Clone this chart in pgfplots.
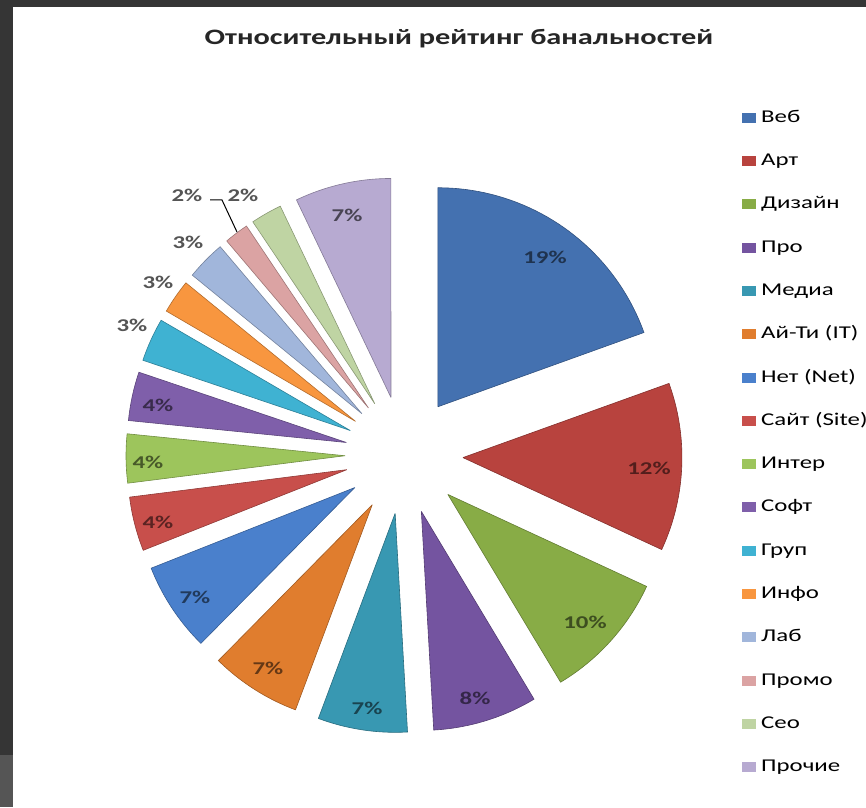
\documentclass[border=0pt]{standalone}
\usepackage{pgfplots}
\pgfplotsset{compat=1.18}
\usepackage{fontspec}
\setmainfont{Carlito}[FakeStretch=1.38]
\definecolor{c1}{HTML}{4471B0}
\definecolor{c2}{HTML}{B8433E}
\definecolor{c3}{HTML}{88AC46}
\definecolor{c4}{HTML}{7454A0}
\definecolor{c5}{HTML}{3898B2}
\definecolor{c6}{HTML}{E07D2E}
\definecolor{c7}{HTML}{4A80CC}
\definecolor{c8}{HTML}{C84F4B}
\definecolor{c9}{HTML}{9DC55C}
\definecolor{c10}{HTML}{7F5FAA}
\definecolor{c11}{HTML}{3FB2D2}
\definecolor{c12}{HTML}{F8963F}
\definecolor{c13}{HTML}{A1B6DB}
\definecolor{c14}{HTML}{DBA3A3}
\definecolor{c15}{HTML}{BFD4A3}
\definecolor{c16}{HTML}{B7AAD1}
\definecolor{frame}{HTML}{353535}
\definecolor{framelow}{HTML}{555555}
\definecolor{lblgray}{HTML}{555555}
\tikzset{pl/.style={font=\bfseries\fontsize{18}{21}\selectfont}}

\newcommand\cum{0}
\newcommand\slice[3]{%
  \pgfmathsetmacro\aS{90-3.6*\cum}%
  \pgfmathsetmacro\aD{-3.6*#1}%
  \pgfmathsetmacro\aM{\aS+\aD/2}%
  \pgfmathsetmacro\ox{404+59*cos(\aM)}%
  \pgfmathsetmacro\oy{352+59*sin(\aM)}%
  \edef\temp{\noexpand\addplot[fill=#2, draw=#2!72!black, line width=0.6pt,
     samples at={-1,0,0.025,...,1,-1}, variable=\noexpand\t]
     ({(\ox)+(\noexpand\t>-0.5)*219*cos((\aS)+(\aD)*\noexpand\t)},
      {(\oy)+(\noexpand\t>-0.5)*219*sin((\aS)+(\aD)*\noexpand\t)});}%
  \temp
  \addlegendentry{#3}%
  \pgfmathsetmacro\newcum{\cum+#1}%
  \xdef\cum{\newcum}%
}

\begin{document}
\begin{tikzpicture}
\begin{axis}[
  x=1pt, y=1pt, xmin=0, xmax=866, ymin=0, ymax=807,
  hide axis, clip=false,
  legend image code/.code={\fill[#1, draw=none] (0pt,-5pt) rectangle (14pt,5pt);},
  legend cell align=left,
  legend style={draw=none, fill=none, inner sep=0pt,
    at={(axis cs:742,698)}, anchor=north west,
    font=\fontsize{18}{20}\selectfont, row sep=26.3pt,
    nodes={inner sep=0pt, text height=13pt, text depth=4pt},
    /tikz/every odd column/.append style={column sep=5pt}},
]
\fill[white] (axis cs:0,0) rectangle (axis cs:866,807);
\fill[frame] (axis cs:0,800) rectangle (axis cs:866,807);
\fill[frame] (axis cs:0,52) rectangle (axis cs:13,807);
\fill[framelow] (axis cs:0,0) rectangle (axis cs:13,52);

\slice{19.5}{c1}{Веб}
\slice{12.4}{c2}{Арт}
\slice{9.5}{c3}{Дизайн}
\slice{7.7}{c4}{Про}
\slice{6.6}{c5}{Медиа}
\slice{6.7}{c6}{Ай-Ти (IT)}
\slice{6.6}{c7}{Нет (Net)}
\slice{4.0}{c8}{Сайт (Site)}
\slice{3.6}{c9}{Интер}
\slice{3.6}{c10}{Софт}
\slice{3.2}{c11}{Груп}
\slice{2.5}{c12}{Инфо}
\slice{2.9}{c13}{Лаб}
\slice{1.8}{c14}{Промо}
\slice{2.3}{c15}{Сео}
\slice{7.1}{c16}{Прочие}

\node[font=\bfseries\fontsize{22}{26}\selectfont, text=black!85, anchor=base] at (axis cs:459,762) {Относительный рейтинг банальностей};

\node[pl, text=c1!45!black] at (axis cs:545,550) {19\%};
\node[pl, text=c2!45!black] at (axis cs:649,339) {12\%};
\node[pl, text=c3!45!black] at (axis cs:585,185) {10\%};
\node[pl, text=c4!45!black] at (axis cs:475,109) {8\%};
\node[pl, text=c5!45!black] at (axis cs:367,99) {7\%};
\node[pl, text=c6!45!black] at (axis cs:268,139) {7\%};
\node[pl, text=c7!45!black] at (axis cs:195,210) {7\%};
\node[pl, text=c8!45!black] at (axis cs:158,285) {4\%};
\node[pl, text=c9!45!black] at (axis cs:148,345) {4\%};
\node[pl, text=c10!45!black] at (axis cs:158,402) {4\%};
\node[pl, text=lblgray] at (axis cs:132,482) {3\%};
\node[pl, text=lblgray] at (axis cs:158,525) {3\%};
\node[pl, text=lblgray] at (axis cs:188,565) {3\%};
\node[pl, text=lblgray] at (axis cs:187,612) {2\%};
\node[pl, text=lblgray] at (axis cs:243,612) {2\%};
\node[pl, text=c16!40!black] at (axis cs:347,592) {7\%};
\draw[black, line width=1pt] (axis cs:210,607) -- (axis cs:222,607) -- (axis cs:237,575);
\end{axis}
\pgfresetboundingbox
\path (current axis.south west) rectangle (current axis.north east);
\end{tikzpicture}
\end{document}
